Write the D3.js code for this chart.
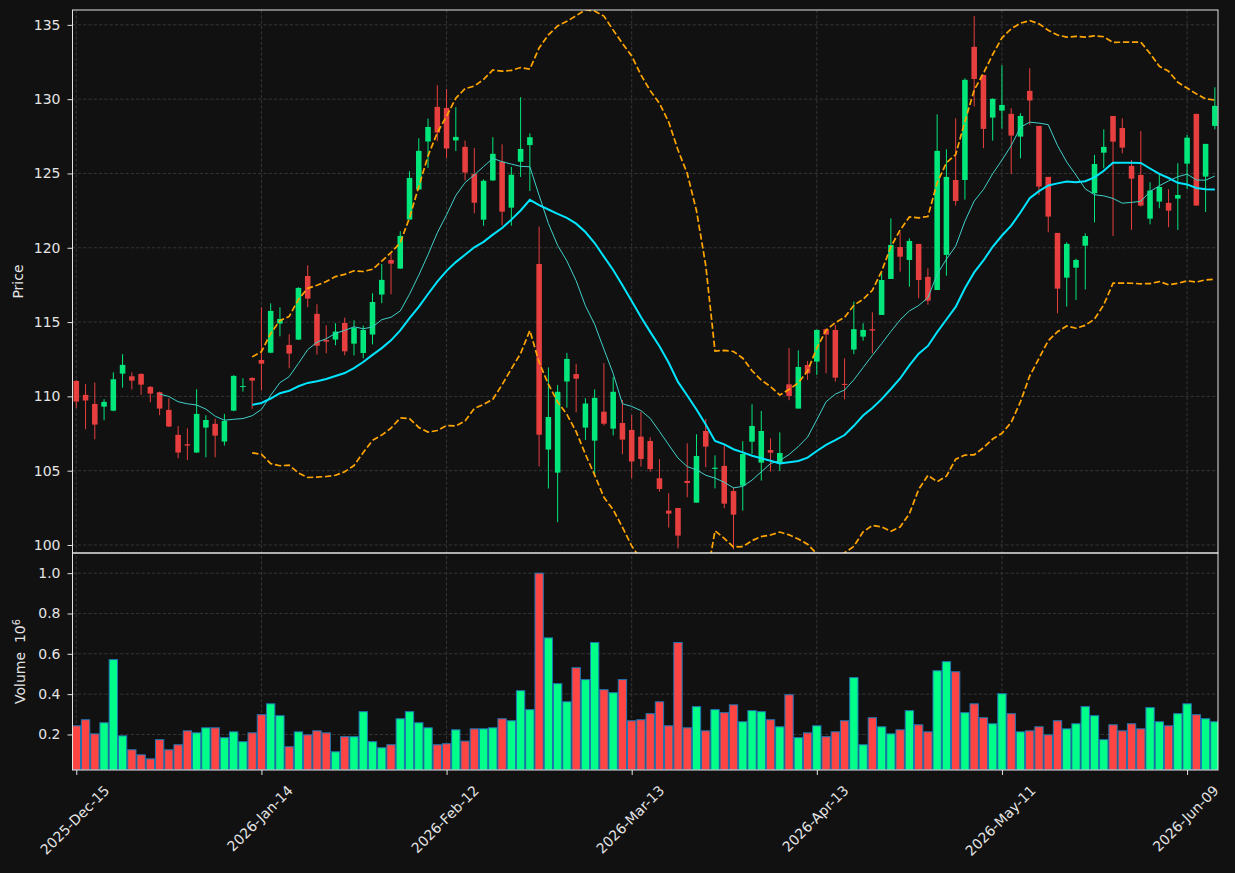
<!DOCTYPE html>
<html>
<head>
<meta charset="utf-8">
<script src="https://cdn.jsdelivr.net/npm/d3@7"></script>
<style>
  body { margin: 0; background: #111111; }
  text { font-family: "DejaVu Sans", sans-serif; }
</style>
</head>
<body>
<div id="chart"></div>
<script>
// OHLC values, one per trading day (index 0 = 2025-Dec-15)
var opens = [
  111.04, 110.10, 109.49, 109.31, 109.04, 111.53, 111.35, 111.51, 110.64, 110.28,
  109.09, 107.41, 106.78, 106.22, 107.90, 108.15, 106.96, 109.04, 110.65, 111.24,
  112.45, 112.94, 114.90, 113.46, 113.82, 118.10, 115.55, 113.79, 113.82, 114.94,
  113.55, 112.92, 114.16, 116.85, 119.18, 118.60, 121.90, 123.92, 127.15, 129.48,
  129.41, 127.22, 126.79, 124.96, 121.89, 124.53, 125.79, 122.70, 125.79, 126.91,
  118.91, 106.42, 104.87, 111.00, 111.50, 107.90, 107.02, 108.97, 107.83, 108.21,
  107.74, 107.29, 107.00, 104.49, 102.31, 102.49, 104.31, 102.85, 107.67, 105.12,
  105.32, 103.63, 103.99, 106.95, 105.54, 106.39, 105.54, 110.81, 109.18, 112.11,
  112.34, 114.52, 114.47, 110.84, 113.15, 114.02, 114.52, 115.48, 117.90, 120.05,
  119.18, 120.26, 118.04, 117.16, 119.52, 124.56, 124.56, 133.52, 131.63, 128.76,
  129.23, 129.01, 127.48, 130.56, 128.20, 124.77, 121.00, 117.99, 118.66, 120.14,
  123.67, 126.40, 128.87, 128.06, 125.51, 124.90, 121.96, 123.11, 123.02, 123.31,
  125.66, 129.01, 124.79, 128.20]
var highs = [
  111.10, 110.82, 110.93, 109.81, 111.62, 112.84, 111.62, 111.56, 110.70, 110.32,
  109.87, 108.01, 107.85, 110.48, 108.73, 108.50, 108.82, 111.42, 111.22, 111.29,
  115.99, 116.26, 115.99, 114.18, 117.34, 118.82, 116.20, 114.78, 114.92, 115.30,
  115.12, 114.76, 116.94, 118.91, 119.63, 121.11, 125.15, 127.37, 128.69, 130.94,
  130.68, 129.46, 127.22, 126.70, 124.60, 127.44, 126.96, 125.44, 130.13, 127.70,
  121.43, 111.95, 110.76, 112.93, 112.19, 109.88, 110.47, 112.24, 111.31, 109.76,
  108.75, 108.97, 107.25, 105.77, 103.48, 102.49, 106.84, 107.45, 108.48, 106.03,
  106.69, 103.86, 106.98, 109.47, 109.02, 107.18, 107.58, 113.24, 113.10, 112.38,
  114.50, 114.58, 114.81, 112.56, 116.38, 114.92, 115.66, 118.28, 121.98, 121.04,
  120.64, 120.26, 118.62, 128.98, 126.63, 128.71, 131.41, 135.60, 131.63, 130.06,
  132.28, 129.39, 129.05, 132.08, 128.20, 124.77, 121.00, 120.37, 119.27, 120.97,
  126.25, 127.97, 128.87, 128.71, 125.91, 127.86, 124.41, 125.01, 123.94, 125.69,
  127.59, 129.01, 126.99, 130.80]
var lows = [
  109.20, 107.79, 107.11, 108.39, 109.00, 110.59, 110.46, 110.10, 109.60, 108.73,
  107.95, 105.83, 105.72, 106.20, 105.90, 105.90, 106.69, 109.00, 110.32, 109.16,
  110.39, 112.90, 114.04, 111.89, 113.80, 116.00, 112.81, 112.90, 113.44, 112.76,
  112.76, 112.56, 113.50, 116.27, 116.87, 118.60, 121.90, 123.90, 125.37, 127.17,
  126.03, 126.51, 124.53, 122.32, 121.48, 124.50, 121.51, 121.48, 124.77, 123.82,
  105.28, 103.80, 101.54, 109.24, 108.93, 107.07, 104.76, 108.04, 107.37, 106.11,
  104.49, 105.27, 104.93, 103.59, 101.17, 99.77, 103.21, 102.85, 105.23, 103.81,
  102.47, 99.70, 102.31, 106.12, 104.33, 104.94, 104.98, 109.74, 109.18, 111.11,
  111.44, 111.55, 110.99, 109.80, 112.84, 113.75, 112.90, 115.48, 117.90, 118.39,
  117.38, 116.60, 116.17, 117.16, 118.12, 122.84, 123.24, 129.50, 126.70, 127.21,
  128.02, 124.95, 126.02, 128.27, 123.55, 121.04, 115.59, 116.04, 116.49, 117.20,
  121.71, 125.35, 120.79, 126.36, 121.20, 122.77, 121.58, 122.66, 121.38, 121.20,
  123.94, 122.84, 122.41, 127.97]
var closes = [
  109.65, 109.72, 108.10, 109.63, 111.15, 112.12, 111.06, 110.79, 110.19, 109.18,
  107.97, 106.22, 106.69, 108.82, 108.41, 107.36, 108.35, 111.38, 110.70, 111.06,
  112.20, 115.75, 115.21, 112.88, 117.30, 116.58, 113.41, 113.68, 114.36, 113.03,
  114.60, 114.47, 116.35, 117.84, 118.93, 120.80, 124.70, 126.52, 128.13, 127.75,
  126.68, 127.46, 125.06, 123.03, 124.51, 126.32, 122.43, 124.91, 126.65, 127.44,
  107.42, 108.61, 110.31, 112.52, 111.19, 109.52, 109.90, 108.16, 110.31, 107.09,
  105.62, 105.79, 105.11, 103.77, 102.11, 100.63, 104.17, 105.99, 106.62, 105.20,
  102.78, 102.04, 106.12, 108.01, 107.67, 106.21, 106.19, 110.03, 111.98, 111.55,
  114.47, 114.16, 111.26, 110.77, 114.52, 114.47, 114.43, 117.83, 120.19, 119.40,
  120.46, 117.83, 116.44, 126.52, 124.77, 123.15, 131.30, 131.36, 128.00, 130.02,
  129.61, 127.55, 128.87, 129.91, 124.12, 122.10, 117.25, 120.26, 119.18, 120.79,
  125.64, 126.79, 127.14, 126.74, 124.65, 122.84, 123.85, 124.09, 122.50, 123.55,
  127.41, 122.84, 126.99, 129.55]
// volume in millions
var volumes = [
  0.243, 0.273, 0.203, 0.258, 0.571, 0.193, 0.124, 0.099, 0.079, 0.174,
  0.124, 0.149, 0.218, 0.208, 0.233, 0.233, 0.184, 0.213, 0.164, 0.208,
  0.298, 0.352, 0.293, 0.139, 0.213, 0.198, 0.218, 0.208, 0.114, 0.189,
  0.189, 0.313, 0.164, 0.134, 0.149, 0.278, 0.313, 0.258, 0.233, 0.149,
  0.154, 0.223, 0.167, 0.228, 0.228, 0.233, 0.278, 0.268, 0.417, 0.323,
  1.000, 0.679, 0.452, 0.362, 0.531, 0.472, 0.656, 0.422, 0.407, 0.472,
  0.268, 0.273, 0.303, 0.362, 0.243, 0.656, 0.233, 0.338, 0.218, 0.323,
  0.308, 0.347, 0.263, 0.318, 0.313, 0.273, 0.238, 0.397, 0.184, 0.208,
  0.243, 0.189, 0.213, 0.268, 0.482, 0.149, 0.283, 0.238, 0.203, 0.223,
  0.318, 0.248, 0.213, 0.516, 0.561, 0.511, 0.308, 0.352, 0.283, 0.253,
  0.402, 0.303, 0.213, 0.218, 0.238, 0.198, 0.268, 0.228, 0.253, 0.338,
  0.293, 0.174, 0.248, 0.218, 0.253, 0.228, 0.333, 0.263, 0.243, 0.303,
  0.352, 0.298, 0.278, 0.263]

var tickIdx = [0, 20, 40, 60, 80, 100, 120]
var tickLabels = ["2025-Dec-15", "2026-Jan-14", "2026-Feb-12", "2026-Mar-13", "2026-Apr-13", "2026-May-11", "2026-Jun-09"]
var priceTicks = [100, 105, 110, 115, 120, 125, 130, 135]
var volTicks = [0.2, 0.4, 0.6, 0.8, 1.0]

// layout
var width = 1235, height = 873
var left = 72.5, right = 1218
var pTop = 10, pBot = 553, vBot = 770
var upColor = "#00ff88", downColor = "#ff4444"
var axisColor = "#e4e4e4", gridColor = "#3a3a3a"

var n = closes.length
var idx = d3.range(n)

var svg = d3.select("#chart").append("svg")
  .attr("width", width).attr("height", height)
  .style("background", "#111111")

var x = d3.scaleLinear().domain([-0.41, 123.34]).range([left, right])
var y = d3.scaleLinear().domain([99.46, 136.0]).range([pBot, pTop])
var vy = d3.scaleLinear().domain([0.3 * d3.min(volumes), 1.1 * d3.max(volumes)]).range([vBot, pBot])
var step = x(1) - x(0)

// clip regions
var defs = svg.append("defs")
defs.append("clipPath").attr("id", "clipP").append("rect")
  .attr("x", left).attr("y", pTop).attr("width", right - left).attr("height", pBot - pTop)
defs.append("clipPath").attr("id", "clipV").append("rect")
  .attr("x", left).attr("y", pBot).attr("width", right - left).attr("height", vBot - pBot)

// grid
var grid = svg.append("g").attr("stroke", gridColor).attr("stroke-width", 0.9).attr("stroke-dasharray", "3.3,2")
grid.selectAll(".gx").data(tickIdx).enter().append("line")
  .attr("x1", function(d) { return x(d) }).attr("x2", function(d) { return x(d) })
  .attr("y1", pTop).attr("y2", vBot)
grid.selectAll(".gp").data(priceTicks).enter().append("line")
  .attr("x1", left).attr("x2", right)
  .attr("y1", function(d) { return y(d) }).attr("y2", function(d) { return y(d) })
grid.selectAll(".gv").data(volTicks).enter().append("line")
  .attr("x1", left).attr("x2", right)
  .attr("y1", function(d) { return vy(d) }).attr("y2", function(d) { return vy(d) })

// moving averages and bollinger bands from the closes
function rolling(arr, win, fn) {
  return arr.map(function(v, i) {
    if (i < win - 1) return null
    return fn(arr.slice(i - win + 1, i + 1))
  })
}
function popStd(a) {
  var m = d3.mean(a)
  return Math.sqrt(d3.mean(a, function(v) { return (v - m) * (v - m) }))
}
var ma10 = rolling(closes, 10, d3.mean)
var ma20 = rolling(closes, 20, d3.mean)
var sd20 = rolling(closes, 20, popStd)
var upper = ma20.map(function(m, i) { return m == null ? null : m + 2 * sd20[i] })
var lower = ma20.map(function(m, i) { return m == null ? null : m - 2 * sd20[i] })

var line = d3.line()
  .defined(function(d) { return d[1] != null })
  .x(function(d) { return x(d[0]) })
  .y(function(d) { return y(d[1]) })
function pts(arr) { return arr.map(function(v, i) { return [i, v] }) }

var price = svg.append("g").attr("clip-path", "url(#clipP)")

// candles
var candle = price.selectAll(".candle").data(idx).enter().append("g")
  .attr("opacity", 0.9)
candle.append("line")
  .attr("x1", function(i) { return x(i) }).attr("x2", function(i) { return x(i) })
  .attr("y1", function(i) { return y(highs[i]) }).attr("y2", function(i) { return y(lows[i]) })
  .attr("stroke", function(i) { return closes[i] >= opens[i] ? upColor : downColor })
  .attr("stroke-width", 1)
candle.append("rect")
  .attr("x", function(i) { return x(i) - step * 0.3 })
  .attr("width", step * 0.6)
  .attr("y", function(i) { return y(Math.max(opens[i], closes[i])) })
  .attr("height", function(i) { return Math.max(1, Math.abs(y(opens[i]) - y(closes[i]))) })
  .attr("fill", function(i) { return closes[i] >= opens[i] ? upColor : downColor })

// lines
price.append("path").attr("d", line(pts(upper)))
  .attr("fill", "none").attr("stroke", "#ffa500").attr("stroke-width", 1.7).attr("stroke-dasharray", "6.3,2.7")
price.append("path").attr("d", line(pts(lower)))
  .attr("fill", "none").attr("stroke", "#ffa500").attr("stroke-width", 1.7).attr("stroke-dasharray", "6.3,2.7")
price.append("path").attr("d", line(pts(ma10)))
  .attr("fill", "none").attr("stroke", "#40d0c8").attr("stroke-width", 1)
price.append("path").attr("d", line(pts(ma20)))
  .attr("fill", "none").attr("stroke", "#00e5ff").attr("stroke-width", 2)

// volume bars
svg.append("g").attr("clip-path", "url(#clipV)")
  .selectAll("rect").data(idx).enter().append("rect")
  .attr("x", function(i) { return x(i) - step * 0.45 })
  .attr("width", step * 0.9)
  .attr("y", function(i) { return vy(volumes[i]) })
  .attr("height", function(i) { return vBot - vy(volumes[i]) })
  .attr("fill", function(i) { return closes[i] >= opens[i] ? upColor : downColor })
  .attr("stroke", "#1f77b4").attr("stroke-width", 1)

// frames
svg.append("rect").attr("x", left).attr("y", pTop).attr("width", right - left).attr("height", pBot - pTop)
  .attr("fill", "none").attr("stroke", axisColor).attr("stroke-width", 1)
svg.append("rect").attr("x", left).attr("y", pBot).attr("width", right - left).attr("height", vBot - pBot)
  .attr("fill", "none").attr("stroke", axisColor).attr("stroke-width", 1)

// y axes
var axP = svg.append("g").attr("transform", "translate(" + left + ",0)")
  .call(d3.axisLeft(y).tickValues(priceTicks).tickSize(5).tickPadding(7).tickFormat(d3.format("d")))
var axV = svg.append("g").attr("transform", "translate(" + left + ",0)")
  .call(d3.axisLeft(vy).tickValues(volTicks).tickSize(5).tickPadding(7).tickFormat(d3.format(".1f")))
var axX = svg.append("g").attr("transform", "translate(0," + vBot + ")")
  .call(d3.axisBottom(x).tickValues(tickIdx).tickSize(5).tickFormat(""))
;[axP, axV, axX].forEach(function(a) {
  a.select(".domain").remove()
  a.selectAll("line").attr("stroke", axisColor)
  a.selectAll("text").attr("fill", axisColor).style("font-size", "14px").style("font-family", "DejaVu Sans")
})

// rotated date labels, box centered under each tick
var xl = svg.append("g")
tickIdx.forEach(function(t, k) {
  var txt = xl.append("text")
    .attr("text-anchor", "middle").attr("dominant-baseline", "central")
    .attr("fill", axisColor).style("font-size", "14px")
    .text(tickLabels[k])
  var len = txt.node().getComputedTextLength()
  var cy = vBot + 13 + (len + 14) * Math.SQRT1_2 / 2
  txt.attr("transform", "translate(" + (x(t) - 1.5) + "," + cy + ") rotate(-45)")
})

// axis titles
svg.append("text")
  .attr("transform", "translate(18," + (pTop + pBot) / 2 + ") rotate(-90)")
  .attr("text-anchor", "middle").attr("dominant-baseline", "central")
  .attr("fill", axisColor).style("font-size", "14px")
  .text("Price")
var vt = svg.append("text")
  .attr("transform", "translate(20," + (pBot + vBot) / 2 + ") rotate(-90)")
  .attr("text-anchor", "middle").attr("dominant-baseline", "central")
  .attr("fill", axisColor).style("font-size", "14px")
vt.append("tspan").text("Volume\u00a0\u00a010")
vt.append("tspan").attr("dy", "-0.45em").style("font-size", "9.8px").text("6")
</script>
</body>
</html>
